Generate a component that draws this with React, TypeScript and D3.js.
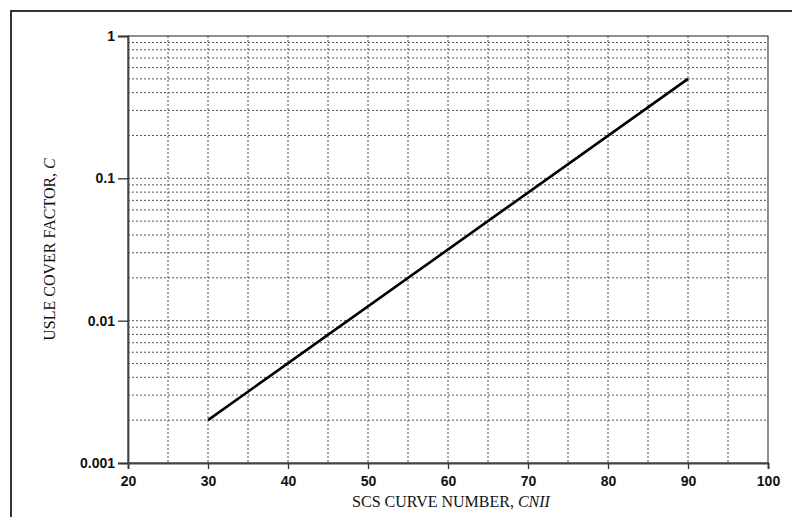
import React, { useEffect, useRef } from 'react';
import * as d3 from 'd3';

// curve
const curveNumber = [30, 90];
const coverFactor = [0.002, 0.5];

const xTicks = [20, 30, 40, 50, 60, 70, 80, 90, 100];
const xGrid = [25, 30, 35, 40, 45, 50, 55, 60, 65, 70, 75, 80, 85, 90, 95];
const yTicks = [0.001, 0.01, 0.1, 1];
const yTickLabels = ['0.001', '0.01', '0.1', '1'];

export default function App() {
	const ref = useRef<SVGSVGElement>(null);

	useEffect(() => {
		const svg = d3.select(ref.current);
		svg.selectAll('*').remove();

		const width = 792;
		const height = 517;
		const margin = { left: 128, top: 36, right: 24, bottom: 54 };
		const innerW = width - margin.left - margin.right;
		const innerH = height - margin.top - margin.bottom;

		// frame of the scanned figure (only top and left edges show)
		svg.append('path')
			.attr('d', `M11,${height} V11 H${width}`)
			.attr('fill', 'none')
			.attr('stroke', '#333')
			.attr('stroke-width', 2);

		const g = svg.append('g')
			.attr('transform', `translate(${margin.left},${margin.top})`);

		const x = d3.scaleLinear().domain([20, 100]).range([0, innerW]);
		const y = d3.scaleLog().domain([0.001, 1]).range([innerH, 0]);

		// minor log gridlines
		const yGrid: number[] = [];
		[0.001, 0.01, 0.1].forEach(dec => {
			for (let k = 1; k < 10; k++) {
				if (dec * k > 0.001) yGrid.push(dec * k);
			}
		});

		g.selectAll('.hgrid')
			.data(yGrid)
			.enter().append('line')
			.attr('x1', 0).attr('x2', innerW)
			.attr('y1', d => y(d)).attr('y2', d => y(d))
			.attr('stroke', '#555')
			.attr('stroke-width', 1)
			.attr('stroke-dasharray', '2,2');

		g.selectAll('.vgrid')
			.data(xGrid)
			.enter().append('line')
			.attr('x1', d => x(d)).attr('x2', d => x(d))
			.attr('y1', 0).attr('y2', innerH)
			.attr('stroke', '#555')
			.attr('stroke-width', 1)
			.attr('stroke-dasharray', '2,2');

		// plot box
		g.append('rect')
			.attr('width', innerW).attr('height', innerH)
			.attr('fill', 'none')
			.attr('stroke', '#444')
			.attr('stroke-width', 1.2);

		// x axis
		const xAxis = d3.axisBottom(x)
			.tickValues(xTicks)
			.tickSize(6)
			.tickFormat(d => String(d));
		const xg = g.append('g')
			.attr('transform', `translate(0,${innerH})`)
			.call(xAxis);
		xg.select('.domain').attr('stroke', '#444').attr('stroke-width', 1.8);
		xg.selectAll('.tick line').attr('stroke', '#333').attr('stroke-width', 1.3);
		xg.selectAll('.tick text')
			.attr('fill', '#111')
			.attr('dy', '1em')
			.style('font-family', 'Liberation Sans, Arial, sans-serif')
			.style('font-weight', 'bold')
			.style('font-size', '14px');

		// y axis
		const yAxis = d3.axisLeft(y)
			.tickValues(yTicks)
			.tickSize(10)
			.tickFormat((d, i) => yTickLabels[i]);
		const yg = g.append('g').call(yAxis);
		yg.select('.domain').attr('stroke', '#444').attr('stroke-width', 1.8);
		yg.selectAll('.tick line').attr('stroke', '#333').attr('stroke-width', 1.3);
		yg.selectAll('.tick text')
			.attr('fill', '#111')
			.attr('x', -13)
			.style('font-family', 'Liberation Sans, Arial, sans-serif')
			.style('font-weight', 'bold')
			.style('font-size', '14px');

		// the curve
		const line = d3.line<number>()
			.x((d, i) => x(curveNumber[i]))
			.y(d => y(d));
		g.append('path')
			.attr('d', line(coverFactor))
			.attr('fill', 'none')
			.attr('stroke', '#000')
			.attr('stroke-width', 2.6);

		// axis titles
		const xt = svg.append('text')
			.attr('x', 451)
			.attr('y', 507)
			.attr('text-anchor', 'middle')
			.style('font-family', 'Liberation Serif, Times New Roman, serif')
			.style('font-size', '16px')
			.attr('fill', '#111');
		xt.append('tspan').text('SCS CURVE NUMBER, ');
		xt.append('tspan').style('font-style', 'italic').text('CNII');

		const yt = svg.append('text')
			.attr('transform', `translate(55,${margin.top + innerH / 2}) rotate(-90)`)
			.attr('text-anchor', 'middle')
			.style('font-family', 'Liberation Serif, Times New Roman, serif')
			.style('font-size', '16px')
			.attr('fill', '#111');
		yt.append('tspan').text('USLE COVER FACTOR, ');
		yt.append('tspan').style('font-style', 'italic').text('C');
	}, []);

	return (
		<svg
			ref={ref}
			width={792}
			height={517}
			style={{ position: 'absolute', left: 0, top: 0, background: '#fff' }}
		/>
	);
}
